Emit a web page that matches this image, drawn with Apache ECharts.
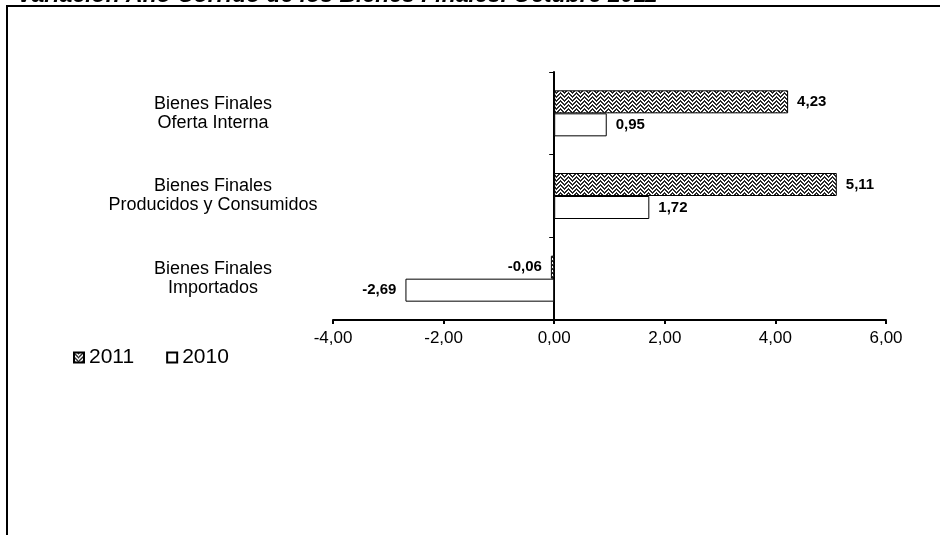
<!DOCTYPE html>
<html>
<head>
<meta charset="utf-8">
<script src="https://cdn.jsdelivr.net/npm/echarts@6/dist/echarts.min.js"></script>
<style>html,body{margin:0;padding:0;background:#fff}#c{width:940px;height:535px}</style>
</head>
<body>
<div id="c"></div>
<script>
const titleText = 'Variación Año Corrido de los Bienes Finales. Octubre 2011';
const categories = ['Bienes Finales\nImportados', 'Bienes Finales\nProducidos y Consumidos', 'Bienes Finales\nOferta Interna'];
const values2011 = [-0.06, 5.11, 4.23];
const values2010 = [-2.69, 1.72, 0.95];
const seriesNames = ['2011', '2010'];
const xMin = -4, xMax = 6, xInterval = 2;

function makePattern() {
  const c = document.createElement('canvas');
  c.width = 8; c.height = 8;
  const ctx = c.getContext('2d');
  ctx.fillStyle = '#fff';
  ctx.fillRect(0, 0, 8, 8);
  ctx.fillStyle = '#2a2a2a';
  for (let col = 0; col < 8; col++) {
    const y = col < 4 ? col : 8 - col;
    [0, 1, 4, 5].forEach(function (d) { ctx.fillRect(col, (y + d) % 8, 1, 1); });
  }
  return c;
}
const hatch = { image: makePattern(), repeat: 'repeat' };

function fmt(v) { return v.toFixed(2).replace('.', ','); }
function items(arr) {
  return arr.map(function (v) { return { value: v, label: { position: v < 0 ? 'left' : 'right' } }; });
}
const valueLabel = {
  show: true, distance: 9, fontFamily: 'Liberation Sans, Arial', fontWeight: 'bold', fontSize: 15, color: '#000',
  padding: [3, 0, 0, 0],
  formatter: function (p) { return fmt(p.value); }
};

const chart = echarts.init(document.getElementById('c'), null, { renderer: 'canvas' });
chart.setOption({
  animation: false,
  backgroundColor: '#fff',
  graphic: [
    { type: 'rect', shape: { x: 7, y: 6, width: 2000, height: 2000 }, style: { fill: null, stroke: '#000', lineWidth: 2 }, silent: true },
    { type: 'text', x: 17, y: 7, style: { text: titleText, font: 'italic bold 23px "Liberation Sans", Arial', fill: '#000', verticalAlign: 'bottom' }, silent: true }
  ],
  legend: {
    left: 68, top: 342, itemWidth: 10, itemHeight: 10, itemGap: 32,
    icon: 'rect',
    textStyle: { fontFamily: 'Liberation Sans, Arial', fontSize: 21, color: '#000' },
    data: seriesNames
  },
  grid: { left: 333, right: 54, top: 72, bottom: 215, containLabel: false, outerBoundsMode: 'none' },
  xAxis: {
    type: 'value', min: xMin, max: xMax, interval: xInterval,
    axisLine: { show: true, lineStyle: { color: '#000', width: 2 } },
    axisTick: { show: true, length: 4, lineStyle: { color: '#000', width: 2 } },
    splitLine: { show: false },
    axisLabel: { color: '#000', fontFamily: 'Liberation Sans, Arial', fontSize: 17, margin: 10, formatter: function (v) { return fmt(v); } }
  },
  yAxis: {
    type: 'category', data: categories,
    axisLine: { show: true, onZero: true, lineStyle: { color: '#000', width: 2 } },
    axisTick: { show: true, length: 5, lineStyle: { color: '#000', width: 1 } },
    axisLabel: { color: '#000', fontFamily: 'Liberation Sans, Arial', fontSize: 18, lineHeight: 19, align: 'center', margin: 120, interval: 0, padding: [5, 0, 0, 0] }
  },
  series: [
    { name: seriesNames[0], type: 'bar', data: items(values2011), barWidth: 23, barGap: '0%',
      itemStyle: { color: hatch, borderColor: '#000', borderWidth: 1 }, label: valueLabel },
    { name: seriesNames[1], type: 'bar', data: items(values2010), barWidth: 23, barGap: '0%',
      itemStyle: { color: '#fff', borderColor: '#000', borderWidth: 1 }, label: valueLabel }
  ]
});
</script>
</body>
</html>
